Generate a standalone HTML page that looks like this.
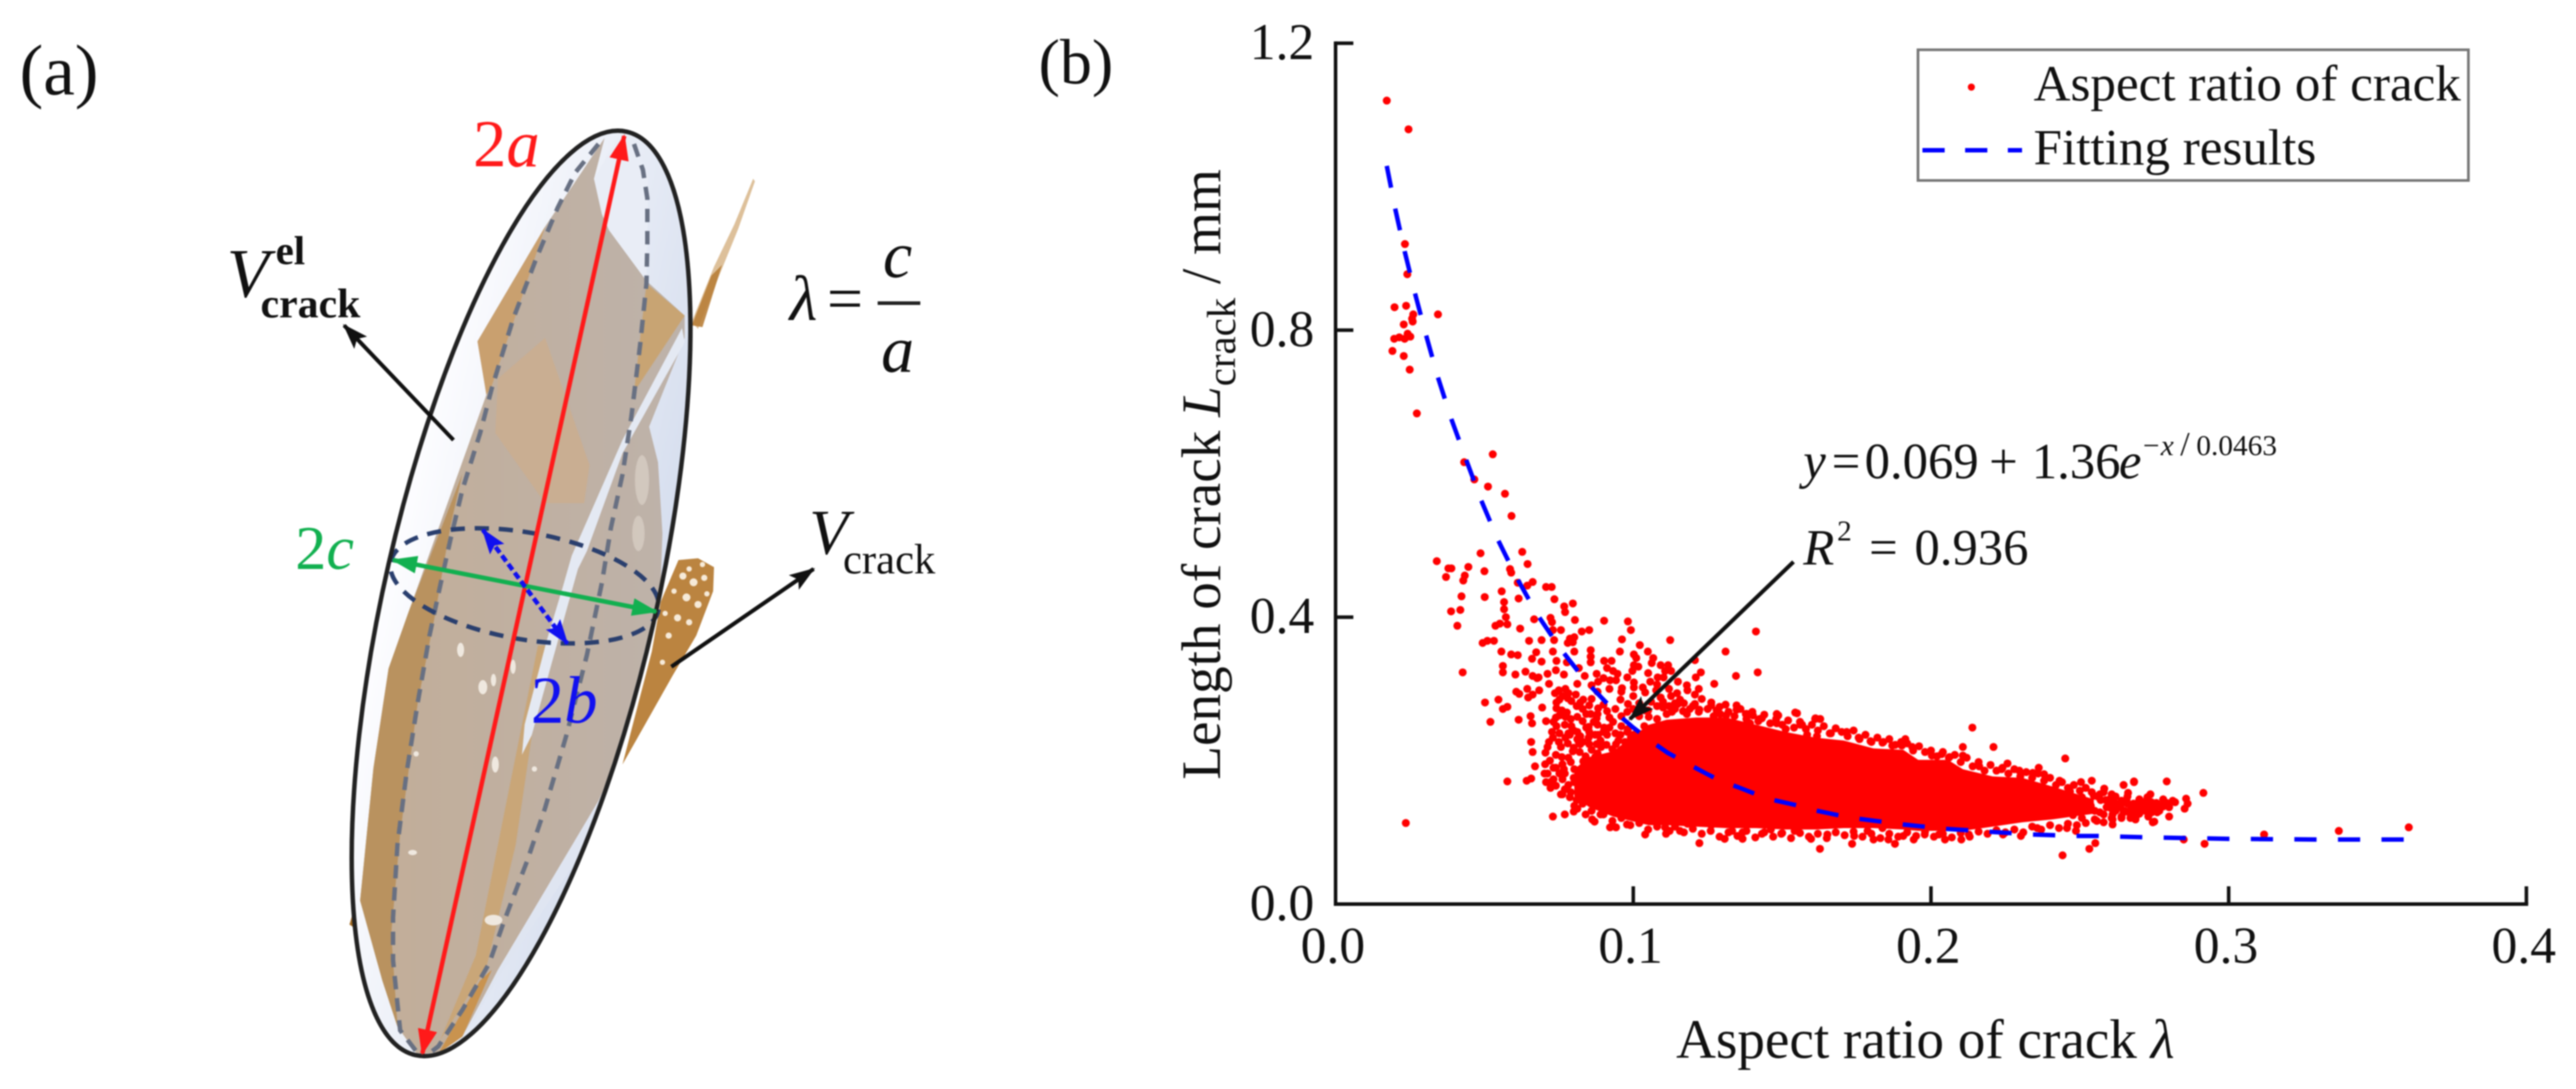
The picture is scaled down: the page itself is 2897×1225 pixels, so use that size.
<!DOCTYPE html>
<html lang="en">
<head>
<meta charset="utf-8">
<title>Crack aspect ratio figure</title>
<style>
html,body{margin:0;padding:0;background:#fff;width:2897px;height:1225px;overflow:hidden}
svg{display:block;filter:blur(0.7px)}
text{font-family:"Liberation Serif","DejaVu Serif",serif;fill:#111}
.it{font-style:italic}
</style>
</head>
<body>
<svg id="fig" xmlns="http://www.w3.org/2000/svg" width="2897" height="1225" viewBox="0 0 2897 1225">
<defs>
<linearGradient id="ellFill" x1="0" x2="1" y1="0" y2="0"><stop offset="0" stop-color="#fdfdff"/><stop offset="1" stop-color="#d6deee"/></linearGradient>
<linearGradient id="tanFill" x1="0" x2="1" y1="0" y2="0"><stop offset="0" stop-color="#c2ad97"/><stop offset="1" stop-color="#bdb2aa"/></linearGradient>
<clipPath id="ellClip"><ellipse cx="586" cy="667.5" rx="150" ry="530" transform="rotate(12.9 586 667.5)"/></clipPath>
<marker id="hBlack" markerUnits="userSpaceOnUse" markerWidth="30" markerHeight="22" refX="27" refY="11" orient="auto"><path d="M0 1L29 11L0 21L6 11z" fill="#111"/></marker>
<marker id="hRed" markerUnits="userSpaceOnUse" markerWidth="30" markerHeight="24" refX="27" refY="12" orient="auto-start-reverse"><path d="M0 1L29 12L0 23z" fill="#ff1a1a"/></marker>
<marker id="hGreen" markerUnits="userSpaceOnUse" markerWidth="30" markerHeight="24" refX="27" refY="12" orient="auto-start-reverse"><path d="M0 2L29 12L0 22z" fill="#12b050"/></marker>
<marker id="hBlue" markerUnits="userSpaceOnUse" markerWidth="30" markerHeight="24" refX="27" refY="12" orient="auto-start-reverse"><path d="M0 2L29 12L0 22L5 12z" fill="#1010f0"/></marker>
</defs>

<g id="panelA">
  <text x="22" y="106" font-size="80">(a)</text>

  <g>
    <path d="M778 362L803 300L826 252L847 201L849 204L830 258L808 312L785 370z" fill="#cfa56f" opacity=".7"/>
    <path d="M778 366L800 310L812 298L790 368z" fill="#b97f3a" opacity=".9"/>
    <polygon points="763,630 785,628 803,638 802,665 783,715 757,759 700,860 733,733 743,677" fill="#bb8440"/>
    <polygon points="401,1013 393,1040 402,1046" fill="#a26a22"/>
    <g fill="#f6ead8">
      <circle cx="768" cy="648" r="4"/><circle cx="780" cy="655" r="4.5"/><circle cx="792" cy="650" r="3.5"/><circle cx="772" cy="672" r="4.5"/><circle cx="785" cy="680" r="4"/><circle cx="762" cy="695" r="4"/><circle cx="752" cy="715" r="3.5"/><circle cx="775" cy="700" r="3.5"/><circle cx="745" cy="745" r="3"/><circle cx="795" cy="668" r="3"/><circle cx="758" cy="665" r="3"/><circle cx="790" cy="635" r="3"/><circle cx="775" cy="640" r="3"/><circle cx="748" cy="690" r="3"/>
    </g>
  </g>

  <ellipse cx="586" cy="667.5" rx="152.6" ry="532.8" transform="rotate(12.9 586 667.5)" fill="url(#ellFill)"/>

  <g clip-path="url(#ellClip)">
    <polygon fill="url(#tanFill)" points="680,155 668,201 677,241 685,259 727,316 770,355 770,380 730,480 740,520 745,600 742,680 733,715 697,849 673,901 560,1091 520,1166 490,1187 470,1187 447,1155 430,1103 405,1013 420,864 437,752 460,687 547,444 537,384 613,255"/>
    <polygon fill="#c9a06f" points="537,384 613,255 587,334 553,434 547,444"/>
    <polygon fill="#c8a473" points="727,319 770,355 713,441 720,380"/>
    <polygon fill="#c9ae92" points="560,426 613,380 663,523 657,566 613,566 557,487"/>
    <polygon fill="#b9925f" points="520,533 507,590 498,640 490,688 470,789 450,938 440,1050 447,1155 430,1103 405,1013 420,864 437,752 460,687"/>
    <polygon fill="#c9a678" points="613,726 605,726 570,900 535,1075 495,1170 547,1088 580,950"/>
    <polygon fill="#c9934f" points="553,1091 520,1166 493,1185 540,1103"/>
    <polygon fill="#e4e9f3" points="767,369 770,385 700,510 660,620 650,640 636,690 598,827 587,849 590,815 615,720 633,660 643,625 700,495"/>
    <polygon fill="#e9edf6" points="695,155 668,201 677,241 685,259 727,316 729,200 712,160"/>
    <polygon fill="#dfe5f1" points="733,715 745,690 760,640 720,800 660,950 560,1100 520,1170 560,1091 673,901 697,849"/>
    <g fill="#efe8df">
      <ellipse cx="518" cy="731" rx="4" ry="8"/><ellipse cx="543" cy="773" rx="5" ry="8"/><ellipse cx="555" cy="765" rx="3" ry="7"/><ellipse cx="577" cy="750" rx="3" ry="8"/><ellipse cx="557" cy="860" rx="4" ry="9"/><ellipse cx="555" cy="1035" rx="10" ry="6"/><ellipse cx="464" cy="959" rx="5" ry="3"/><ellipse cx="468" cy="848" rx="3" ry="3"/><ellipse cx="601" cy="865" rx="3" ry="3"/><ellipse cx="722" cy="540" rx="8" ry="28" opacity=".4"/><ellipse cx="718" cy="600" rx="7" ry="20" opacity=".4"/>
    </g>
  </g>

  <path d="M673 162L647 194L627 234L603 291L577 359L553 437L540 487L520 551L507 605L495 659L483 715L470 789L457 871L447 950L442 1032L442 1080L450 1159L470 1185" fill="none" stroke="#687082" stroke-width="5" stroke-dasharray="15 10"/>
  <path d="M713 162L723 191L728 223L728 273L727 319L720 387L710 469L700 534L687 594L677 655L660 737L637 827L613 909L593 968L567 1036L550 1084L520 1136L493 1177L480 1187" fill="none" stroke="#687082" stroke-width="5" stroke-dasharray="15 10"/>
  <ellipse cx="590" cy="659" rx="153" ry="60" transform="rotate(10 590 659)" fill="none" stroke="#2a3f6e" stroke-width="5" stroke-dasharray="16 11"/>
  <ellipse cx="586" cy="667.5" rx="152.6" ry="532.8" transform="rotate(12.9 586 667.5)" fill="none" stroke="#222" stroke-width="5"/>

  <line x1="702" y1="153" x2="475" y2="1185" stroke="#ff1a1a" stroke-width="5" marker-start="url(#hRed)" marker-end="url(#hRed)"/>
  <line x1="442" y1="630" x2="738" y2="688" stroke="#12b050" stroke-width="5" marker-start="url(#hGreen)" marker-end="url(#hGreen)"/>
  <line x1="543" y1="596" x2="638" y2="724" stroke="#1010f0" stroke-width="5" stroke-dasharray="8 4" marker-start="url(#hBlue)" marker-end="url(#hBlue)"/>

  <line x1="510" y1="495" x2="387" y2="366" stroke="#111" stroke-width="4.5" marker-end="url(#hBlack)"/>
  <line x1="755" y1="750" x2="915" y2="640" stroke="#111" stroke-width="4.5" marker-end="url(#hBlack)"/>

  <text x="532" y="187" font-size="75" style="fill:#ff1a1a">2<tspan class="it">a</tspan></text>
  <text x="332" y="640" font-size="70" style="fill:#12b050">2<tspan class="it">c</tspan></text>
  <text x="597" y="813" font-size="75" style="fill:#1010f0">2<tspan class="it">b</tspan></text>

  <g>
    <text class="it" x="255" y="334" font-size="78">V</text>
    <text x="310" y="297" font-size="46" font-weight="bold">el</text>
    <text x="293" y="357" font-size="47" font-weight="bold">crack</text>
  </g>
  <g>
    <text class="it" x="910" y="623" font-size="72">V</text>
    <text x="948" y="645" font-size="48">crack</text>
  </g>
  <g>
    <text class="it" x="888" y="360" font-size="72">λ</text>
    <text x="930" y="360" font-size="72">=</text>
    <text class="it" x="993" y="312" font-size="74">c</text>
    <line x1="987" y1="341" x2="1035" y2="341" stroke="#222" stroke-width="4"/>
    <text class="it" x="991" y="418" font-size="74">a</text>
  </g>
</g>

<g id="panelB">
  <text x="1168" y="94" font-size="72">(b)</text>
  <g id="core"></g>
  <g id="points"></g>
  <g id="fit"></g>
  <g id="axes"></g>

  <line x1="2017" y1="632" x2="1833" y2="809" stroke="#111" stroke-width="4.5" marker-end="url(#hBlack)"/>

  <g>
    <text class="it" x="2028" y="538" font-size="57">y</text>
    <text x="2060" y="538" font-size="57">=</text>
    <text x="2097" y="538" font-size="57">0.069</text>
    <text x="2237" y="538" font-size="57">+</text>
    <text x="2285" y="538" font-size="57">1.36</text>
    <text class="it" x="2383" y="538" font-size="57">e</text>
    <text x="2410" y="512" font-size="33">−</text>
    <text class="it" x="2430" y="512" font-size="33">x</text>
    <text x="2452" y="512" font-size="38">/</text>
    <text x="2470" y="512" font-size="33">0.0463</text>
  </g>
  <g>
    <text class="it" x="2028" y="635" font-size="57">R</text>
    <text x="2066" y="608" font-size="33">2</text>
    <text x="2102" y="635" font-size="57">=</text>
    <text x="2153" y="635" font-size="57">0.936</text>
  </g>

  <g>
    <rect x="2157" y="56" width="619" height="147" fill="#fff" stroke="#777" stroke-width="3"/>
    <circle cx="2217" cy="98" r="4" fill="#ff0000"/>
    <text x="2287" y="113" font-size="57.5">Aspect ratio of crack</text>
    <line x1="2162" y1="169" x2="2274" y2="169" stroke="#0000ff" stroke-width="5" stroke-dasharray="25 23"/>
    <text x="2287" y="185" font-size="57.5">Fitting results</text>
  </g>

  <text x="1885" y="1190" font-size="62">Aspect ratio of crack <tspan class="it">λ</tspan></text>
  <text transform="translate(1372,877) rotate(-90)" font-size="62">Length of crack <tspan class="it">L</tspan><tspan font-size="46" dy="17">crack</tspan><tspan dy="-17"> / mm</tspan></text>
</g>
</svg>

<script>
const xTicks = [0, 0.1, 0.2, 0.3, 0.4];
const yTicks = [0, 0.4, 0.8, 1.2];
const xTickLabels = ['0.0', '0.1', '0.2', '0.3', '0.4'];
const yTickLabels = ['0.0', '0.4', '0.8', '1.2'];

const fitLambda = [0.0172,0.0201,0.0232,0.0267,0.0304,0.0344,0.0389,0.0439,0.0489,0.0544,0.0607,0.0677,0.0757,0.0844,0.0944,0.1000,0.1057,0.1115,0.1177,0.1240,0.1297,0.1352,0.1407,0.1472,0.1547,0.1607,0.1687,0.1757,0.1832,0.1905,0.1977,0.2047,0.2122,0.2192,0.2267,0.2340,0.2412,0.2487,0.2562,0.2632,0.2732,0.3000,0.3300,0.3612];
const fitLength = [1.029,0.968,0.910,0.851,0.793,0.734,0.676,0.619,0.563,0.509,0.456,0.404,0.355,0.309,0.266,0.246,0.228,0.211,0.197,0.183,0.171,0.163,0.154,0.145,0.138,0.131,0.124,0.119,0.115,0.111,0.108,0.105,0.103,0.101,0.099,0.097,0.096,0.095,0.095,0.094,0.093,0.091,0.090,0.090];

const coreLambda = [0.0802,0.0852,0.0932,0.1012,0.1052,0.1112,0.1212,0.1312,0.1412,0.1512,0.1612,0.1707,0.1807,0.1907,0.1957,0.2057,0.2107,0.2207,0.2307,0.2407,0.2477,0.2547];
const coreUpper = [0.188,0.205,0.213,0.238,0.250,0.257,0.260,0.260,0.250,0.240,0.232,0.228,0.217,0.215,0.201,0.201,0.188,0.178,0.176,0.164,0.155,0.146];
const coreLower = [0.150,0.135,0.122,0.114,0.110,0.110,0.108,0.106,0.106,0.104,0.104,0.106,0.106,0.104,0.102,0.102,0.102,0.108,0.114,0.118,0.122,0.126];

const topPoints = [[0.0172,1.120],[0.0245,1.080],[0.0233,0.920],[0.0241,0.878],[0.0198,0.832],[0.0237,0.834],[0.0261,0.822],[0.0344,0.822],[0.0257,0.816],[0.0229,0.808],[0.0259,0.812],[0.0197,0.788],[0.0214,0.790],[0.0232,0.788],[0.0242,0.795],[0.0251,0.791],[0.0191,0.771],[0.0229,0.764],[0.0249,0.745],[0.0273,0.684],[0.0528,0.627],[0.0432,0.616],[0.0466,0.592],[0.0512,0.582],[0.0569,0.572],[0.0591,0.541],[0.0236,0.113]];

const midPoints = [[0.0487,0.489],[0.0627,0.491],[0.0340,0.478],[0.0379,0.468],[0.0389,0.468],[0.0446,0.470],[0.0500,0.464],[0.0645,0.474],[0.0586,0.467],[0.0590,0.462],[0.0434,0.458],[0.0429,0.451],[0.0371,0.456],[0.0612,0.448],[0.0662,0.449],[0.0644,0.444],[0.0707,0.442],[0.0726,0.442],[0.0558,0.436],[0.0423,0.429],[0.0501,0.428],[0.0615,0.426],[0.0735,0.425],[0.0566,0.421],[0.0566,0.411],[0.0797,0.419],[0.0768,0.415],[0.0771,0.407],[0.0388,0.408],[0.0419,0.410],[0.0409,0.388]];

const upperPoints = [[0.0572,0.400],[0.0577,0.390],[0.0537,0.388],[0.0552,0.391],[0.0620,0.384],[0.0667,0.397],[0.0722,0.399],[0.0727,0.393],[0.0804,0.396],[0.0902,0.395],[0.0982,0.394],[0.0992,0.382],[0.0730,0.382],[0.0757,0.382],[0.0827,0.380],[0.0852,0.382],[0.0494,0.364],[0.0510,0.367],[0.0532,0.367],[0.0650,0.367],[0.0692,0.368],[0.0734,0.368],[0.0962,0.369],[0.1124,0.368],[0.0787,0.370],[0.0802,0.372],[0.0780,0.364],[0.0797,0.365],[0.0557,0.352],[0.0590,0.348],[0.0612,0.347],[0.0674,0.351],[0.0730,0.352],[0.0802,0.352],[0.0857,0.354],[0.0857,0.345],[0.0955,0.352],[0.1022,0.361],[0.1049,0.352],[0.1002,0.348],[0.1010,0.343],[0.1067,0.343],[0.1412,0.380],[0.1310,0.352],[0.0660,0.342],[0.0692,0.338],[0.0742,0.339],[0.0777,0.337],[0.0857,0.337],[0.0902,0.339],[0.0927,0.339],[0.1062,0.336],[0.1092,0.333],[0.1117,0.333],[0.1207,0.340],[0.0562,0.332],[0.0427,0.323],[0.0562,0.323],[0.0604,0.320],[0.0638,0.324],[0.0662,0.318],[0.0682,0.316],[0.0712,0.321],[0.0740,0.326],[0.0767,0.320],[0.0817,0.329],[0.0837,0.318],[0.0877,0.321],[0.0912,0.329],[0.0932,0.325],[0.0947,0.321],[0.0997,0.325],[0.1017,0.331],[0.1002,0.333],[0.1107,0.325],[0.1127,0.325],[0.1227,0.323],[0.1210,0.316],[0.1345,0.318],[0.1418,0.323],[0.1272,0.307],[0.0677,0.315],[0.0717,0.307],[0.0812,0.307],[0.0882,0.310],[0.0922,0.312],[0.0942,0.312],[0.1002,0.309],[0.1057,0.310],[0.1082,0.316],[0.1102,0.316]];

const shoulderPoints = [[0.0607,0.296],[0.0617,0.293],[0.0644,0.300],[0.0647,0.288],[0.0662,0.292],[0.0684,0.298],[0.0737,0.294],[0.0772,0.300],[0.0782,0.294],[0.0807,0.292],[0.0962,0.301],[0.1002,0.302],[0.1032,0.302],[0.1077,0.298],[0.1182,0.298],[0.1207,0.292],[0.0502,0.281],[0.0547,0.285],[0.0562,0.272],[0.0577,0.275],[0.0694,0.274],[0.0742,0.281],[0.0752,0.285],[0.0792,0.283],[0.0832,0.285],[0.0957,0.285],[0.0982,0.279],[0.1092,0.288],[0.1127,0.290],[0.1147,0.294],[0.1157,0.285],[0.1207,0.279],[0.1262,0.281],[0.1222,0.271],[0.1262,0.277],[0.1347,0.277],[0.0520,0.254],[0.0615,0.257],[0.0655,0.262],[0.0660,0.252],[0.0707,0.255],[0.0732,0.254],[0.0777,0.267],[0.0772,0.261],[0.0812,0.261],[0.0857,0.265],[0.0877,0.259],[0.1052,0.261],[0.1112,0.265],[0.1167,0.269],[0.1292,0.265],[0.1382,0.265],[0.1402,0.263],[0.1432,0.259],[0.1487,0.263],[0.1550,0.266],[0.1567,0.250],[0.1612,0.259],[0.0727,0.240],[0.0752,0.238],[0.0782,0.238],[0.0797,0.242],[0.0822,0.234],[0.0657,0.226],[0.0717,0.226],[0.0712,0.219],[0.0757,0.219],[0.0817,0.226],[0.0877,0.223],[0.0662,0.212],[0.0705,0.211],[0.0797,0.213],[0.0782,0.204],[0.0872,0.205],[0.0670,0.192],[0.0704,0.195],[0.0732,0.190],[0.0762,0.195],[0.0577,0.171],[0.0642,0.172],[0.0657,0.175],[0.0712,0.182],[0.0722,0.170],[0.0722,0.162],[0.0757,0.153],[0.0742,0.273],[0.0762,0.290],[0.0822,0.281],[0.0852,0.277],[0.0882,0.273],[0.0912,0.269],[0.0932,0.254],[0.0842,0.265],[0.0867,0.254],[0.0902,0.246],[0.0842,0.246],[0.0882,0.236],[0.0822,0.223],[0.0912,0.236],[0.0957,0.236],[0.0972,0.226],[0.0752,0.263],[0.0787,0.236],[0.0812,0.240],[0.0852,0.240],[0.0892,0.219],[0.0942,0.223],[0.0992,0.232],[0.0982,0.244],[0.1037,0.248],[0.0852,0.223],[0.0872,0.236],[0.0772,0.232],[0.0812,0.230],[0.0792,0.248],[0.0742,0.248],[0.0762,0.174],[0.0782,0.166],[0.0752,0.182],[0.0802,0.170],[0.0832,0.153],[0.0852,0.145],[0.0812,0.133],[0.0802,0.137],[0.0762,0.153],[0.0787,0.149],[0.0732,0.174],[0.0707,0.170],[0.0702,0.182],[0.0767,0.188],[0.0802,0.188],[0.0832,0.199]];

const shoulderFillPoints = [[0.075,0.298],[0.078,0.287],[0.081,0.276],[0.076,0.270],[0.079,0.258],[0.083,0.272],[0.086,0.286],[0.088,0.265],[0.090,0.278],[0.092,0.260],[0.094,0.272],[0.096,0.262],[0.098,0.268],[0.100,0.272],[0.102,0.280],[0.104,0.270],[0.106,0.282],[0.108,0.276],[0.110,0.282],[0.112,0.276],[0.114,0.272],[0.117,0.280],[0.119,0.272],[0.123,0.286],[0.125,0.272],[0.128,0.270],[0.131,0.278],[0.074,0.260],[0.077,0.250],[0.080,0.242],[0.083,0.255],[0.085,0.247],[0.088,0.250],[0.090,0.240],[0.092,0.246],[0.094,0.238],[0.096,0.248],[0.098,0.240],[0.100,0.236],[0.073,0.232],[0.075,0.226],[0.078,0.224],[0.080,0.218],[0.083,0.226],[0.085,0.232],[0.086,0.215],[0.089,0.228],[0.091,0.222],[0.093,0.216],[0.095,0.228],[0.097,0.216],[0.099,0.224],[0.101,0.218],[0.074,0.208],[0.076,0.205],[0.079,0.198],[0.082,0.212],[0.084,0.206],[0.086,0.198],[0.088,0.210],[0.090,0.204],[0.092,0.198],[0.072,0.200],[0.074,0.190],[0.077,0.182],[0.074,0.165],[0.077,0.160],[0.080,0.176],[0.079,0.156],[0.081,0.145],[0.083,0.140],[0.086,0.130],[0.089,0.125],[0.084,0.125],[0.087,0.115],[0.100,0.290],[0.104,0.295],[0.108,0.306],[0.112,0.300],[0.115,0.310],[0.118,0.305],[0.096,0.296],[0.092,0.300],[0.088,0.296],[0.086,0.305],[0.090,0.315],[0.105,0.322],[0.098,0.316],[0.114,0.280],[0.122,0.300]];

const lowerPoints = [[0.0730,0.122],[0.0770,0.125],[0.0800,0.129],[0.0862,0.118],[0.0922,0.107],[0.0942,0.107],[0.0979,0.111],[0.1040,0.097],[0.1222,0.085],[0.1122,0.102],[0.1157,0.102],[0.1107,0.107],[0.1307,0.091],[0.1367,0.091],[0.1367,0.100],[0.1432,0.098],[0.1497,0.098],[0.1597,0.091],[0.1332,0.102],[0.1542,0.102],[0.1182,0.112],[0.1262,0.110],[0.1462,0.104],[0.1652,0.097],[0.1735,0.084],[0.1742,0.095],[0.1787,0.102],[0.1807,0.090],[0.1857,0.090],[0.1879,0.084],[0.1907,0.095],[0.1942,0.090],[0.1979,0.097],[0.2047,0.090],[0.2027,0.097],[0.2102,0.090],[0.2127,0.097],[0.2242,0.097],[0.2302,0.095],[0.2357,0.106],[0.2457,0.106],[0.2487,0.102],[0.2442,0.068],[0.2532,0.077],[0.2552,0.085],[0.1627,0.077],[0.1837,0.106],[0.2610,0.111],[0.2750,0.115],[0.2687,0.118]];

const lowerFringePoints = [[0.090,0.125],[0.093,0.116],[0.096,0.120],[0.099,0.110],[0.102,0.113],[0.105,0.104],[0.108,0.108],[0.111,0.098],[0.114,0.108],[0.117,0.100],[0.120,0.105],[0.123,0.098],[0.126,0.102],[0.129,0.094],[0.132,0.100],[0.135,0.095],[0.138,0.102],[0.141,0.093],[0.144,0.100],[0.147,0.094],[0.150,0.099],[0.153,0.092],[0.156,0.099],[0.159,0.094],[0.162,0.098],[0.165,0.092],[0.168,0.100],[0.171,0.096],[0.174,0.101],[0.177,0.094],[0.180,0.098],[0.183,0.092],[0.186,0.098],[0.189,0.094],[0.192,0.100],[0.195,0.095],[0.198,0.101],[0.201,0.094],[0.204,0.098],[0.207,0.093],[0.210,0.099],[0.213,0.094],[0.216,0.101],[0.219,0.098],[0.222,0.103],[0.225,0.100],[0.228,0.104],[0.231,0.100],[0.234,0.108],[0.237,0.104],[0.240,0.110],[0.243,0.106],[0.246,0.112],[0.249,0.110],[0.252,0.113],[0.255,0.118],[0.258,0.114],[0.261,0.118],[0.264,0.122],[0.267,0.120],[0.270,0.126],[0.273,0.122],[0.276,0.128]];

const ridgePoints = [[0.1347,0.271],[0.1312,0.263],[0.1482,0.252],[0.1512,0.244],[0.1392,0.252],[0.1544,0.267],[0.1611,0.258],[0.1628,0.258],[0.1561,0.250],[0.1482,0.265],[0.1378,0.265],[0.1424,0.258],[0.1717,0.240],[0.1664,0.238],[0.1797,0.227],[0.1837,0.225],[0.1914,0.230],[0.1870,0.221],[0.2139,0.246],[0.2107,0.219],[0.2210,0.219],[0.2107,0.207],[0.2451,0.203],[0.2003,0.207],[0.2036,0.209],[0.1584,0.236],[0.1617,0.234],[0.1757,0.232],[0.1937,0.219],[0.1902,0.221],[0.2062,0.205],[0.2162,0.192],[0.2257,0.196],[0.2237,0.188],[0.2297,0.186],[0.2362,0.190],[0.2380,0.181],[0.2342,0.183],[0.2432,0.172],[0.2504,0.170],[0.2540,0.172],[0.2582,0.161],[0.2647,0.166],[0.2682,0.171],[0.2662,0.155],[0.2607,0.153]];

const upperFringePoints = [[0.102,0.262],[0.105,0.270],[0.108,0.258],[0.110,0.274],[0.113,0.268],[0.115,0.279],[0.118,0.265],[0.120,0.276],[0.122,0.268],[0.125,0.272],[0.127,0.262],[0.129,0.275],[0.132,0.268],[0.134,0.262],[0.136,0.272],[0.138,0.258],[0.140,0.268],[0.142,0.255],[0.144,0.264],[0.146,0.252],[0.148,0.258],[0.150,0.250],[0.152,0.256],[0.154,0.246],[0.156,0.254],[0.158,0.244],[0.160,0.250],[0.162,0.242],[0.164,0.248],[0.166,0.238],[0.168,0.245],[0.170,0.240],[0.172,0.234],[0.174,0.242],[0.176,0.230],[0.178,0.236],[0.180,0.226],[0.182,0.232],[0.184,0.226],[0.186,0.230],[0.188,0.222],[0.190,0.226],[0.192,0.224],[0.194,0.214],[0.196,0.220],[0.198,0.212],[0.200,0.214],[0.202,0.206],[0.204,0.212],[0.206,0.204],[0.208,0.208],[0.210,0.198],[0.212,0.204],[0.214,0.192],[0.216,0.198],[0.218,0.186],[0.220,0.194],[0.222,0.186],[0.224,0.190],[0.226,0.182],[0.228,0.188],[0.230,0.178],[0.232,0.184],[0.234,0.176],[0.236,0.182],[0.238,0.172],[0.240,0.176],[0.242,0.166],[0.244,0.170],[0.246,0.162],[0.248,0.166],[0.250,0.158],[0.252,0.162],[0.254,0.156],[0.256,0.150],[0.258,0.156],[0.260,0.146],[0.262,0.150],[0.264,0.144],[0.266,0.150],[0.268,0.140],[0.270,0.146],[0.272,0.136],[0.274,0.142],[0.276,0.134],[0.278,0.146]];

const tailPoints = [[0.2507,0.149],[0.2547,0.151],[0.2587,0.145],[0.2527,0.133],[0.2567,0.128],[0.2617,0.141],[0.2637,0.137],[0.2672,0.133],[0.2707,0.137],[0.2722,0.141],[0.2757,0.141],[0.2742,0.128],[0.2767,0.130],[0.2792,0.141],[0.2507,0.120],[0.2557,0.116],[0.2607,0.120],[0.2477,0.124],[0.2647,0.128],[0.2687,0.124],[0.2607,0.133],[0.2567,0.153],[0.2497,0.141],[0.2487,0.133],[0.2467,0.157],[0.2477,0.145],[0.2537,0.137],[0.2657,0.145],[0.2727,0.149],[0.2682,0.170],[0.2792,0.171],[0.2915,0.155],[0.2737,0.153],[0.2722,0.143],[0.2742,0.141],[0.2782,0.141],[0.2812,0.144],[0.2857,0.147],[0.2862,0.140],[0.2852,0.133],[0.2702,0.136],[0.2687,0.133],[0.2737,0.128],[0.2757,0.131],[0.2800,0.122],[0.2745,0.114],[0.2687,0.120],[0.2849,0.090],[0.2919,0.084],[0.3119,0.097],[0.3370,0.102],[0.3605,0.107],[0.258,0.125],[0.260,0.140],[0.262,0.130],[0.264,0.120],[0.266,0.140],[0.268,0.128],[0.270,0.130],[0.272,0.130],[0.274,0.135],[0.276,0.138],[0.278,0.136],[0.280,0.135],[0.282,0.142],[0.255,0.130],[0.257,0.145],[0.259,0.135],[0.261,0.125],[0.263,0.135],[0.265,0.130],[0.267,0.125],[0.269,0.140],[0.271,0.142]];

const pointGroups = [topPoints, midPoints, upperPoints, shoulderPoints, shoulderFillPoints, lowerPoints, lowerFringePoints, ridgePoints, upperFringePoints, tailPoints];

const NS = 'http://www.w3.org/2000/svg';
const xAxis = function (v) { return 1502 + v * 3348; };
const yAxis = function (v) { return 1017 - v * 807; };

const coreGroup = document.getElementById('core');
const coreTop = coreLambda.map(function (v, i) { return xAxis(v) + ',' + yAxis(coreUpper[i]); });
const coreBottom = coreLambda.map(function (v, i) { return xAxis(v) + ',' + yAxis(coreLower[i]); }).reverse();
const corePoly = document.createElementNS(NS, 'polygon');


corePoly.setAttribute('points', coreTop.concat(coreBottom).join(' '));
corePoly.setAttribute('fill', '#ff0000');
coreGroup.appendChild(corePoly);

const pointLayer = document.getElementById('points');
pointGroups.forEach(function (group) {
  group.forEach(function (p) {
    const dot = document.createElementNS(NS, 'circle');
    
    
    dot.setAttribute('cx', xAxis(p[0]));
    dot.setAttribute('cy', yAxis(p[1]));
    dot.setAttribute('r', 4.5);
    dot.setAttribute('fill', '#ff0000');
    pointLayer.appendChild(dot);
  });
});

const fitGroup = document.getElementById('fit');
const fitLine = document.createElementNS(NS, 'polyline');


fitLine.setAttribute('points', fitLambda.map(function (v, i) { return xAxis(v) + ',' + yAxis(fitLength[i]); }).join(' '));
fitLine.setAttribute('fill', 'none');
fitLine.setAttribute('stroke', '#0000ff');
fitLine.setAttribute('stroke-width', '5');
fitLine.setAttribute('stroke-dasharray', '25 24');
fitGroup.appendChild(fitLine);

const axesGroup = document.getElementById('axes');
const leftAxis = document.createElementNS(NS, 'line');


leftAxis.setAttribute('x1', xAxis(0));
leftAxis.setAttribute('x2', xAxis(0));
leftAxis.setAttribute('y1', yAxis(1.2) - 2);
leftAxis.setAttribute('y2', yAxis(0) + 2);
leftAxis.setAttribute('stroke', '#111');
leftAxis.setAttribute('stroke-width', '4');
axesGroup.appendChild(leftAxis);

const bottomAxis = document.createElementNS(NS, 'line');


bottomAxis.setAttribute('x1', xAxis(0) - 2);
bottomAxis.setAttribute('x2', xAxis(0.4) + 2);
bottomAxis.setAttribute('y1', yAxis(0));
bottomAxis.setAttribute('y2', yAxis(0));
bottomAxis.setAttribute('stroke', '#111');
bottomAxis.setAttribute('stroke-width', '4');
axesGroup.appendChild(bottomAxis);

xTicks.forEach(function (v, i) {
  const tick = document.createElementNS(NS, 'line');
  
  
  tick.setAttribute('x1', xAxis(v));
  tick.setAttribute('x2', xAxis(v));
  tick.setAttribute('y1', yAxis(0));
  tick.setAttribute('y2', yAxis(0) - 20);
  tick.setAttribute('stroke', '#111');
  tick.setAttribute('stroke-width', '4');
  axesGroup.appendChild(tick);
  const label = document.createElementNS(NS, 'text');
  
  
  label.setAttribute('x', xAxis(v) - 3);
  label.setAttribute('y', 1083);
  label.setAttribute('font-size', '58');
  label.setAttribute('text-anchor', 'middle');
  label.textContent = xTickLabels[i];
  axesGroup.appendChild(label);
});

yTicks.forEach(function (v, i) {
  const tick = document.createElementNS(NS, 'line');
  
  
  tick.setAttribute('x1', xAxis(0));
  tick.setAttribute('x2', xAxis(0) + 20);
  tick.setAttribute('y1', yAxis(v));
  tick.setAttribute('y2', yAxis(v));
  tick.setAttribute('stroke', '#111');
  tick.setAttribute('stroke-width', '4');
  axesGroup.appendChild(tick);
  const label = document.createElementNS(NS, 'text');
  
  
  label.setAttribute('x', 1478);
  label.setAttribute('y', yAxis(v) + 18);
  label.setAttribute('font-size', '58');
  label.setAttribute('text-anchor', 'end');
  label.textContent = yTickLabels[i];
  axesGroup.appendChild(label);
});
</script>
</body>
</html>
